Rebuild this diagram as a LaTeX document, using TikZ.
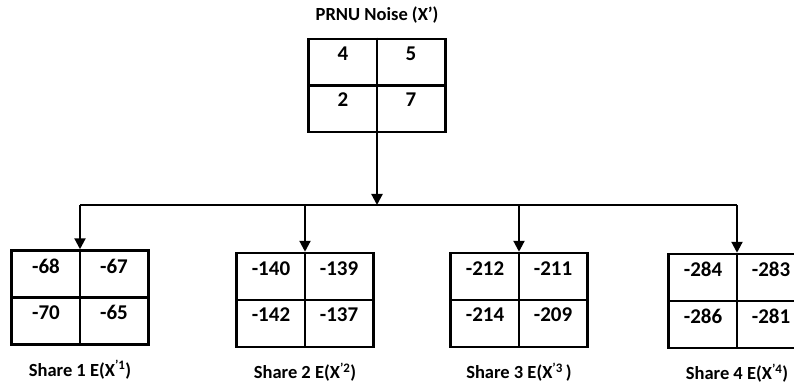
\documentclass[tikz,border=0pt]{standalone}
\usepackage{fontspec}
\setmainfont{Carlito}
\usetikzlibrary{arrows.meta, positioning, calc}

\tikzset{
    gridbox/.style={draw, line width=2.5pt, minimum width=137pt, minimum height=94pt, inner sep=0pt},
    rule/.style={line width=2.5pt},
    cell/.style={font=\fontsize{21}{24}\selectfont\bfseries, inner sep=0pt},
    caption/.style={font=\fontsize{18.5}{22}\selectfont\bfseries, inner sep=0pt},
    link/.style={line width=2.2pt, -{Triangle[length=11pt, width=11pt]}}
}

\begin{document}
\begin{tikzpicture}[x=1pt, y=1pt]
        \useasboundingbox (0,0) rectangle (794,383);
        \clip (0,0) rectangle (794,383);

        % Noise block
        \node[gridbox, minimum height=93pt] (prnu) at (377,297.5) {};
        \draw[rule] (prnu.north) -- (prnu.south);
        \draw[rule] (prnu.west) -- (prnu.east);
        \node[cell] (prnu-a) at ($(prnu.north)+(-34,-16)$) {4};
        \node[cell] (prnu-b) at ($(prnu.north)+(34,-16)$) {5};
        \node[cell] (prnu-c) at ($(prnu.center)+(-34,-14)$) {2};
        \node[cell] (prnu-d) at ($(prnu.center)+(34,-14)$) {7};
        \node[caption] (title) at (377,368) {PRNU Noise (X’)};

        % Split point
        \coordinate (hub) at (prnu.south |- 0,178);
        \draw[link] (prnu.south) -- (hub);

        % Share blocks
        \foreach \n/\x/\y/\a/\b/\c/\d/\sp in {1/80/85.5/-68/-67/-70/-65/, 2/305/83/-140/-139/-142/-137/, 3/519/83/-212/-211/-214/-209/\,, 4/737/82/-284/-283/-286/-281/} {
            \node[gridbox] (share\n) at (\x,\y) {};
            \draw[rule] (share\n.north) -- (share\n.south);
            \draw[rule] (share\n.west) -- (share\n.east);
            \node[cell] (share\n-a) at ($(share\n.north)+(-34,-17)$) {\a};
            \node[cell] (share\n-b) at ($(share\n.north)+(34,-17)$) {\b};
            \node[cell] (share\n-c) at ($(share\n.center)+(-34,-15)$) {\c};
            \node[cell] (share\n-d) at ($(share\n.center)+(34,-15)$) {\d};
            \node[caption] (label\n) at ($(share\n.south)+(0,-24)$) {Share \n\ E(X\textsuperscript{’\n}\sp)};
            \coordinate (split\n) at (share\n.north |- hub);
            \draw[link] (split\n) -- (share\n.north);
        }

        \draw[rule] (split1) -- (split4);

    \end{tikzpicture}
\end{document}
